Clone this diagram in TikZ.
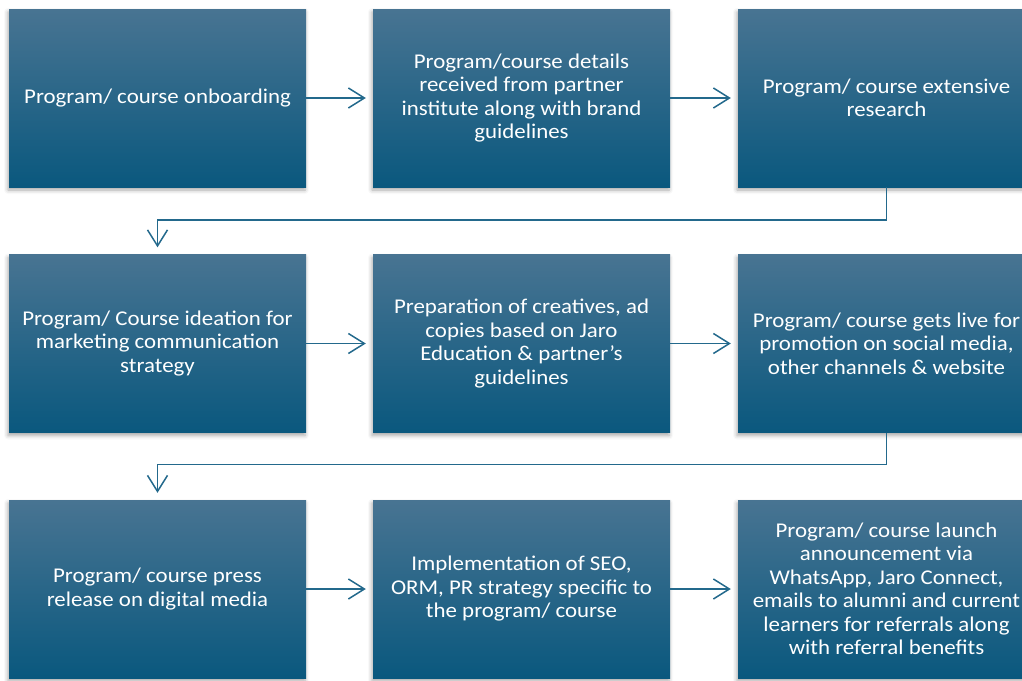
\documentclass[tikz,border=0pt]{standalone}
\usepackage{fontspec}
\setmainfont{Carlito}[FakeStretch=1.09]
\usetikzlibrary{arrows.meta,shadows.blur}
\definecolor{topc}{RGB}{72,116,146}
\definecolor{botc}{RGB}{10,88,126}
\definecolor{linec}{RGB}{35,105,140}
\begin{document}
\begin{tikzpicture}[x=1pt,y=-1pt,
 box/.style={draw=none, top color=topc, bottom color=botc, minimum width=297pt, minimum height=178pt, inner sep=0pt, text=white, align=center, font=\fontsize{21}{23.5}\selectfont, blur shadow={shadow xshift=-1pt,shadow yshift=-3pt,shadow blur radius=4pt,shadow opacity=35}},
 conn/.style={draw=linec, line width=1.5pt, shorten >=7pt, -{Straight Barb[length=16pt,width=20pt,line width=1.5pt]}}]
\useasboundingbox (0,0) rectangle (1022,680);
\node[box] (a1) at (157.5,98) {Program/ course onboarding};
\node[box] (a2) at (521.5,98) {Program/course details\\received from partner\\institute along with brand\\guidelines};
\node[box] (a3) at (886.5,98) {Program/ course extensive\\research};
\node[box] (b1) at (157.5,343.5) {Program/ Course ideation for\\marketing communication\\strategy};
\node[box] (b2) at (521.5,343.5) {Preparation of creatives, ad\\copies based on Jaro\\Education \& partner’s\\guidelines};
\node[box] (b3) at (886.5,343.5) {Program/ course gets live for\\promotion on social media,\\other channels \& website};
\node[box] (c1) at (157.5,589) {Program/ course press\\release on digital media};
\node[box] (c2) at (521.5,589) {Implementation of SEO,\\ORM, PR strategy specific to\\the program/ course};
\node[box] (c3) at (886.5,589) {Program/ course launch\\announcement via\\WhatsApp, Jaro Connect,\\emails to alumni and current\\learners for referrals along\\with referral benefits};
\draw[conn] (a1) -- (a2);
\draw[conn] (a2) -- (a3);
\draw[conn] (b1) -- (b2);
\draw[conn] (b2) -- (b3);
\draw[conn] (c1) -- (c2);
\draw[conn] (c2) -- (c3);
\draw[conn] (a3.south) -- ++(0,33) -| (b1.north);
\draw[conn] (b3.south) -- ++(0,32) -| (c1.north);
\end{tikzpicture}
\end{document}
